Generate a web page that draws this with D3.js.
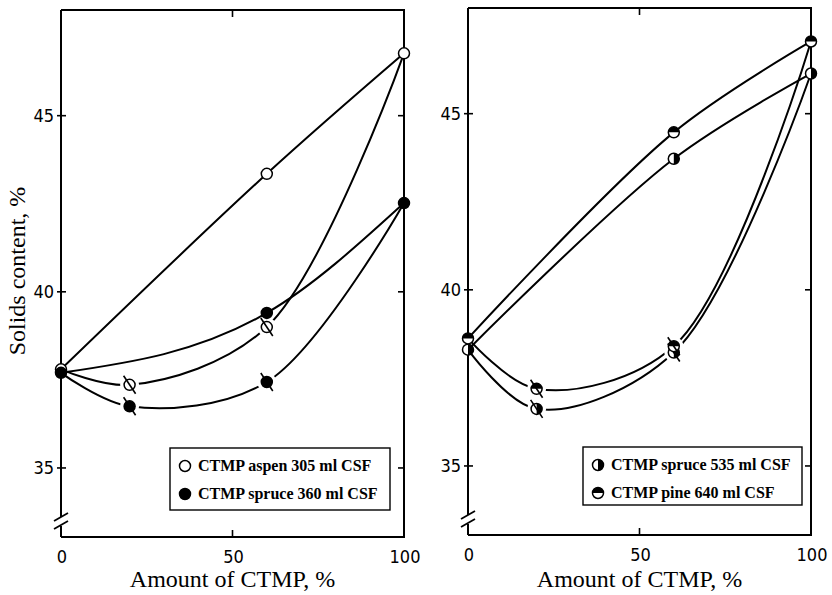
<!DOCTYPE html>
<html><head><meta charset="utf-8">
<script src="https://cdn.jsdelivr.net/npm/d3@7"></script>
<style>body{margin:0;background:#fff}svg{display:block}
.serif{font-family:"Liberation Serif","Times New Roman",Times,"DejaVu Serif",serif}
.num{font-family:"Liberation Sans Narrow","Arial Narrow","DejaVu Sans Condensed",sans-serif}
</style>
</head><body>
<script>
// ---- data ----
const xTicks = [0, 50, 100];
const yTicks = [35, 40, 45];
const xTitle = "Amount of CTMP, %";
const yTitle = "Solids content, %";

// left panel
const aspenX = [0, 60, 100];
const aspenY = [37.8, 43.35, 46.77];
const spruce360X = [0, 60, 100];
const spruce360Y = [37.7, 39.4, 42.52];
const aspenSlashX = [0, 20, 60, 100];
const aspenSlashY = [37.8, 37.36, 39.0, 46.77];
const spruce360SlashX = [0, 20, 60, 100];
const spruce360SlashY = [37.7, 36.75, 37.44, 42.52];

// right panel
const spruce535X = [0, 60, 100];
const spruce535Y = [38.3, 43.72, 46.14];
const pineX = [0, 60, 100];
const pineY = [38.62, 44.47, 47.05];
const spruce535SlashX = [0, 20, 60, 100];
const spruce535SlashY = [38.3, 36.62, 38.22, 46.14];
const pineSlashX = [0, 20, 60, 100];
const pineSlashY = [38.62, 37.19, 38.4, 47.05];

const leftLegend = ["CTMP aspen 305 ml CSF", "CTMP spruce 360 ml CSF"];
const rightLegend = ["CTMP spruce 535 ml CSF", "CTMP pine 640 ml CSF"];

const zip = (xs, ys) => xs.map((x, i) => ({x, y: ys[i]}));

const W = 832, H = 595;
const svg = d3.select("body").append("svg").attr("width", W).attr("height", H);

const R = 5.5;
function marker(g, type, slash) {
  g.append("circle").attr("r", R).attr("fill", type === "filled" ? "#000" : "#fff");
  if (type === "halfRight") g.append("path").attr("d", `M0,${-R}A${R},${R} 0 0 1 0,${R}Z`).attr("fill", "#000");
  if (type === "halfTop") g.append("path").attr("d", `M${-R},0A${R},${R} 0 0 1 ${R},0Z`).attr("fill", "#000");
  g.append("circle").attr("r", R).attr("fill", "none").attr("stroke", "#000").attr("stroke-width", 1.5);
  if (slash) g.append("line").attr("x1", -6).attr("y1", -9).attr("x2", 6).attr("y2", 9)
    .attr("stroke", "#000").attr("stroke-width", 1.6);
}

function panel(cfg) {
  const x = d3.scaleLinear().domain([0, 100]).range([cfg.x0, cfg.x1]);
  const y = d3.scaleLinear().domain([33.04, 48.0]).range([cfg.yb, cfg.yt]);
  const g = svg.append("g");
  const sw = 2;
  g.append("path").attr("d", `M${cfg.x0},${cfg.yt}H${cfg.x1}V${cfg.yb}H${cfg.x0}`)
    .attr("fill", "none").attr("stroke", "#000").attr("stroke-width", sw);
  const yBreak = cfg.yb - 16;
  g.append("line").attr("x1", cfg.x0).attr("x2", cfg.x0).attr("y1", cfg.yt).attr("y2", yBreak - 4)
    .attr("stroke", "#000").attr("stroke-width", sw);
  g.append("line").attr("x1", cfg.x0).attr("x2", cfg.x0).attr("y1", yBreak + 5).attr("y2", cfg.yb)
    .attr("stroke", "#000").attr("stroke-width", sw);
  [-4, 4].forEach(d => g.append("line")
    .attr("x1", cfg.x0 - 7).attr("y1", yBreak + d + 4).attr("x2", cfg.x0 + 7).attr("y2", yBreak + d - 4)
    .attr("stroke", "#000").attr("stroke-width", 1.8));

  yTicks.forEach(t => {
    g.append("line").attr("x1", cfg.x0 - 4).attr("x2", cfg.x0 + 5).attr("y1", y(t)).attr("y2", y(t))
      .attr("stroke", "#000").attr("stroke-width", 1.6);
    g.append("line").attr("x1", cfg.x1 - 6).attr("x2", cfg.x1).attr("y1", y(t)).attr("y2", y(t))
      .attr("stroke", "#000").attr("stroke-width", 1.6);
    g.append("text").attr("class", "num").attr("x", cfg.x0 - 7).attr("y", y(t) + 6.5).attr("text-anchor", "end")
      .attr("font-size", 18).text(t);
  });
  xTicks.forEach(t => {
    if (t === 50) {
      g.append("line").attr("x1", x(t)).attr("x2", x(t)).attr("y1", cfg.yb).attr("y2", cfg.yb - 7)
        .attr("stroke", "#000").attr("stroke-width", 1.6);
      g.append("line").attr("x1", x(t)).attr("x2", x(t)).attr("y1", cfg.yt).attr("y2", cfg.yt + 7)
        .attr("stroke", "#000").attr("stroke-width", 1.6);
    }
    g.append("text").attr("class", "num").attr("x", x(t) + 1).attr("y", cfg.yb + 26).attr("text-anchor", "middle")
      .attr("font-size", 18).text(t);
  });
  g.append("text").attr("class", "serif").attr("x", (cfg.x0 + cfg.x1) / 2).attr("y", 587).attr("text-anchor", "middle")
    .attr("font-size", 24).text(xTitle);

  const catmull = d3.curveCatmullRom.alpha(0.5);
  cfg.series.forEach(s => {
    const line = d3.line().x(d => x(d.x)).y(d => y(d.y)).curve(s.curve || catmull);
    g.append("path").datum(zip(s.xs, s.ys)).attr("d", line)
      .attr("fill", "none").attr("stroke", "#000").attr("stroke-width", 2);
  });
  cfg.series.filter(s => s.slash).forEach(s => {
    zip(s.xs, s.ys).slice(1, -1).forEach(p => {
      g.append("circle").attr("cx", x(p.x)).attr("cy", y(p.y)).attr("r", 9.5).attr("fill", "#fff");
    });
  });
  cfg.series.forEach(s => {
    const pts = zip(s.xs, s.ys);
    const use = s.slash ? pts.slice(1, -1) : pts;
    use.forEach(p => marker(g.append("g").attr("transform", `translate(${x(p.x)},${y(p.y)})`), s.type, s.slash));
  });

  const L = cfg.legend;
  g.append("rect").attr("x", L.x).attr("y", L.y).attr("width", L.w).attr("height", L.h)
    .attr("fill", "#fff").attr("stroke", "#000").attr("stroke-width", 1.4);
  L.items.forEach((txt, i) => {
    const cy = L.y + 18 + i * 28;
    marker(g.append("g").attr("transform", `translate(${L.x + 15},${cy})`), L.types[i], false);
    g.append("text").attr("class", "serif").attr("x", L.x + 28).attr("y", cy + 5)
      .attr("font-weight", "bold").attr("font-size", 16).text(txt);
  });
}

panel({
  x0: 61, x1: 404, yt: 10, yb: 537,
  series: [
    {xs: aspenX, ys: aspenY, type: "open", slash: false},
    {xs: spruce360X, ys: spruce360Y, type: "filled", slash: false, curve: d3.curveMonotoneX},
    {xs: aspenSlashX, ys: aspenSlashY, type: "open", slash: true},
    {xs: spruce360SlashX, ys: spruce360SlashY, type: "filled", slash: true}
  ],
  legend: {x: 170, y: 448, w: 220, h: 62, items: leftLegend, types: ["open", "filled"]}
});
panel({
  x0: 468, x1: 811, yt: 8, yb: 535,
  series: [
    {xs: spruce535X, ys: spruce535Y, type: "halfRight", slash: false},
    {xs: pineX, ys: pineY, type: "halfTop", slash: false},
    {xs: spruce535SlashX, ys: spruce535SlashY, type: "halfRight", slash: true},
    {xs: pineSlashX, ys: pineSlashY, type: "halfTop", slash: true}
  ],
  legend: {x: 583, y: 447, w: 219, h: 58, items: rightLegend, types: ["halfRight", "halfTop"]}
});

svg.append("text").attr("class", "serif").attr("transform", "translate(25,271) rotate(-90)").attr("text-anchor", "middle")
  .attr("font-size", 24).text(yTitle);
</script>
</body></html>
